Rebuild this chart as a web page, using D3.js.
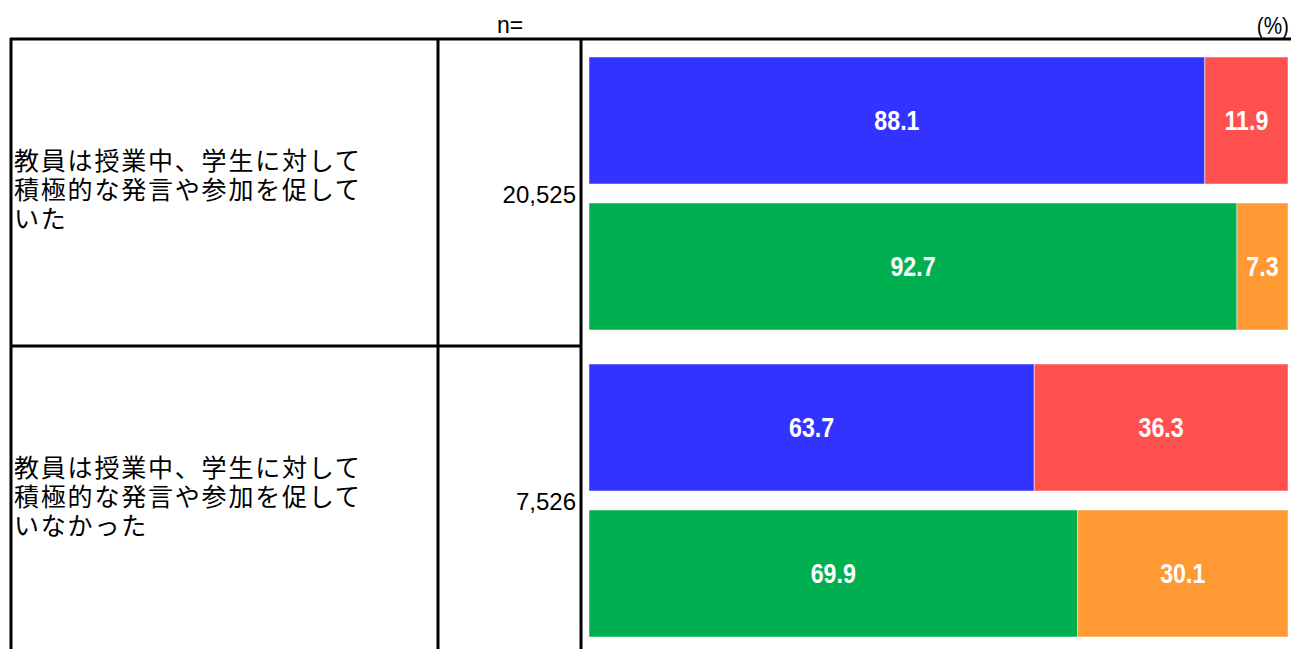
<!DOCTYPE html>
<html>
<head>
<meta charset="utf-8">
<script src="https://cdn.jsdelivr.net/npm/d3@7"></script>
<style>
    body { margin: 0; background: #fff; }
    svg { display: block; }
</style>
</head>
<body>
<div id="chart"></div>
<script>
// Data
const categories = ["promoted", "notPromoted"];
const labelLines = [
    ["教員は授業中、学生に対して", "積極的な発言や参加を促して", "いた"],
    ["教員は授業中、学生に対して", "積極的な発言や参加を促して", "いなかった"]
];
const nValues = [20525, 7526];
const rows = ["first", "second"];
const firstYes = [88.1, 63.7];
const firstNo = [11.9, 36.3];
const secondYes = [92.7, 69.9];
const secondNo = [7.3, 30.1];
const colors = {firstYes: "#3333ff", firstNo: "#ff5050", secondYes: "#00b050", secondNo: "#ff9933"};

const width = 1291, height = 649;

const svg = d3.select("#chart").append("svg")
    .attr("width", width)
    .attr("height", height);

// Scales
const yGroup = d3.scaleBand()
    .domain(categories)
    .range([39, 653]);

const yBar = d3.scaleBand()
    .domain(rows)
    .range([18, yGroup.bandwidth() - 16])
    .paddingInner(0.13);

const x = d3.scaleLinear()
    .domain([0, 100])
    .range([589, 1288]);

// Table lines
const lineColor = "#000";
svg.append("line")
    .attr("x1", 10).attr("x2", width)
    .attr("y1", yGroup.range()[0]).attr("y2", yGroup.range()[0])
    .attr("stroke", lineColor).attr("stroke-width", 3);

svg.append("line")
    .attr("x1", 10).attr("x2", 582)
    .attr("y1", yGroup(categories[1])).attr("y2", yGroup(categories[1]))
    .attr("stroke", lineColor).attr("stroke-width", 3);

[11, 438, 581].forEach(function(xx) {
    svg.append("line")
        .attr("x1", xx).attr("x2", xx)
        .attr("y1", 38).attr("y2", height)
        .attr("stroke", lineColor).attr("stroke-width", 3);
});

// Header texts
svg.append("text")
    .attr("x", 497)
    .attr("y", 33)
    .attr("font-family", "Liberation Sans, Arial, sans-serif")
    .attr("font-size", 23)
    .attr("fill", "#000")
    .text("n=");

svg.append("text")
    .attr("transform", "translate(1289,34) scale(0.9,1)")
    .attr("text-anchor", "end")
    .attr("font-family", "Liberation Sans, Arial, sans-serif")
    .attr("font-size", 23)
    .attr("fill", "#000")
    .text("(%)");

// Groups
const groups = svg.selectAll(".group")
    .data(categories)
    .enter().append("g")
    .attr("class", "group")
    .attr("transform", d => "translate(0," + yGroup(d) + ")");

// Category labels and n
groups.each(function(d, i) {
    const g = d3.select(this);
    const lines = labelLines[i];
    const lh = 29;
    const cy = yGroup.bandwidth() / 2 - 3;
    const text = g.append("text")
        .attr("font-family", "Noto Sans CJK JP, sans-serif")
        .attr("font-size", 25)
        .attr("letter-spacing", 1.8)
        .attr("fill", "#000");
    lines.forEach(function(l, j) {
        text.append("tspan")
            .attr("x", 14)
            .attr("y", cy + (j - (lines.length - 1) / 2) * lh)
            .attr("dy", "0.36em")
            .text(l);
    });

    g.append("text")
        .attr("x", 576)
        .attr("y", yGroup.bandwidth() / 2 + 10)
        .attr("text-anchor", "end")
        .attr("font-family", "Liberation Sans, Arial, sans-serif")
        .attr("font-size", 24)
        .attr("fill", "#000")
        .text(d3.format(",")(nValues[i]));
});

// Bars
const barData = [];
categories.forEach(function(c, i) {
    barData.push({cat: c, row: "first", start: 0, value: firstYes[i], color: colors.firstYes});
    barData.push({cat: c, row: "first", start: firstYes[i], value: firstNo[i], color: colors.firstNo});
    barData.push({cat: c, row: "second", start: 0, value: secondYes[i], color: colors.secondYes});
    barData.push({cat: c, row: "second", start: secondYes[i], value: secondNo[i], color: colors.secondNo});
});

svg.selectAll(".bar")
    .data(barData)
    .enter().append("rect")
    .attr("class", "bar")
    .attr("x", d => x(d.start))
    .attr("y", d => yGroup(d.cat) + yBar(d.row))
    .attr("width", d => x(d.start + d.value) - x(d.start))
    .attr("height", yBar.bandwidth())
    .attr("fill", d => d.color)
    .attr("stroke", "#ffffff")
    .attr("stroke-opacity", 0.5)
    .attr("stroke-width", 1);

// Condensed bold value labels
svg.selectAll(".bar-label")
    .data(barData)
    .enter().append("text")
    .attr("class", "bar-label")
    .attr("transform", d => "translate(" + (x(d.start) + x(d.start + d.value)) / 2 + ","
        + (yGroup(d.cat) + yBar(d.row) + yBar.bandwidth() / 2) + ") scale(0.86,1)")
    .attr("dy", "0.36em")
    .attr("text-anchor", "middle")
    .attr("font-family", "Liberation Sans, Arial, sans-serif")
    .attr("font-weight", "bold")
    .attr("font-size", 27)
    .attr("fill", "#fff")
    .text(d => d.value.toFixed(1));
</script>
</body>
</html>
